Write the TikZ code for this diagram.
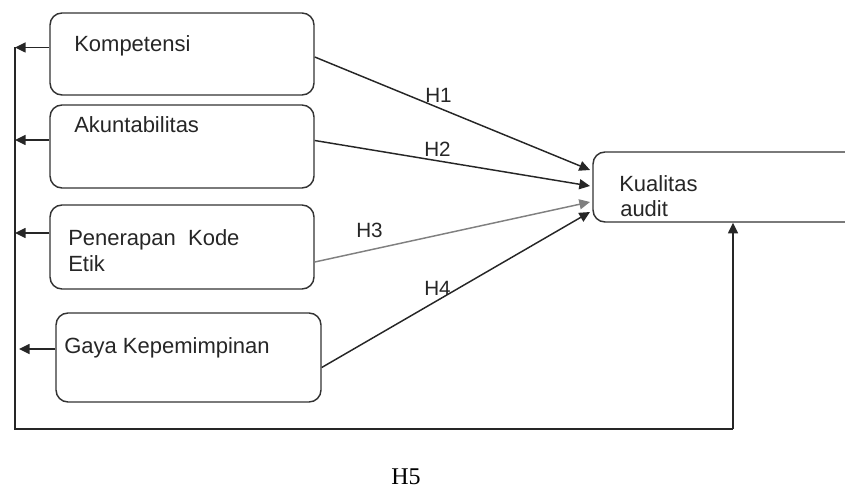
\documentclass[tikz,border=0pt]{standalone}
\usepackage{fontspec}
\setmainfont{Liberation Sans}
\newfontfamily\hserif{Liberation Serif}
\usetikzlibrary{arrows.meta,fit,calc}
\begin{document}
\begin{tikzpicture}[x=0.75pt,y=-0.75pt,
  boxst/.style={draw=black!80, line width=1.1pt, rounded corners=9pt, inner sep=0pt},
  conn/.style={draw=black!85, line width=1.1pt},
  arr/.style={conn, -{Triangle[length=8pt,width=7.5pt]}},
  lbl/.style={anchor=base west, inner sep=0pt, font=\fontsize{16.5}{19}\selectfont, text=black!85},
  hl/.style={lbl, font=\fontsize{15.5}{18}\selectfont}]
\useasboundingbox (0,0) rectangle (845,488);
% boxes
\node[boxst, fit={(50,13) (314,95)}] (k) {};
\node[boxst, fit={(50,105) (314,188)}] (a) {};
\node[boxst, fit={(50,205) (314,289)}] (p) {};
\node[boxst, fit={(56,313) (321,402)}] (g) {};
\node[boxst, fit={(593,152) (880,222)}] (q) {};
% box texts
\node[lbl] (tk) at (74,52) {Kompetensi};
\node[lbl] (ta) at (74,133) {Akuntabilitas};
\node[lbl] (tp1) at (68,246) {Penerapan\ \ Kode};
\node[lbl] (tp2) at (68,272) {Etik};
\node[lbl] (tg) at (64,353) {Gaya Kepemimpinan};
\node[lbl] (tq1) at (619,192) {Kualitas};
\node[lbl] (tq2) at (620,217) {audit};
% hypothesis arrows
\coordinate (e1) at (590,170);
\coordinate (e2) at (590,186);
\coordinate (e3) at (590,202);
\coordinate (e4) at (590,212);
\draw[arr] ($(k.east)+(0,3)$) -- (e1);
\draw[arr] ($(a.east)+(0,-6)$) -- (e2);
\draw[arr, draw=black!50] ($(p.east)+(0,15)$) -- (e3);
\draw[arr] ($(g.east)+(0,10)$) -- (e4);
\node[hl] (h1) at (425,103) {H1};
\node[hl] (h2) at (424,157) {H2};
\node[hl] (h3) at (356,238) {H3};
\node[hl] (h4) at (424,295) {H4};
% left feedback line
\coordinate (l1) at (15,47.5);
\coordinate (l2) at (15,140);
\coordinate (l3) at (15,233);
\coordinate (l4) at (19,349);
\coordinate (lb) at (15,429);
\coordinate (rb) at (733,429);
\draw[arr] ($(k.west)+(0,-6.5)$) -- (l1);
\draw[arr] ($(a.west)+(0,-6.5)$) -- (l2);
\draw[arr] ($(p.west)+(0,-14)$) -- (l3);
\draw[arr] ($(g.west)+(0,-8.5)$) -- (l4);
\draw[conn] (l1) -- (lb) -- (rb);
\draw[arr] (rb) -- (rb |- q.south);
\node[anchor=base west, inner sep=0pt, font=\hserif\fontsize{18}{20}\selectfont] (h5) at (391,484) {H5};
\end{tikzpicture}
\end{document}
